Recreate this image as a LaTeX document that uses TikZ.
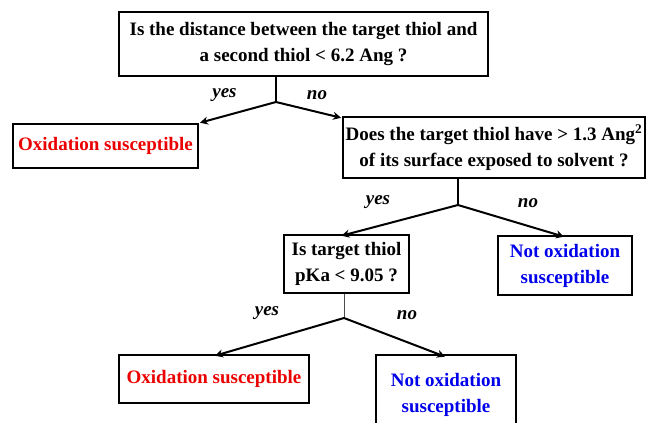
\documentclass[tikz,border=0pt]{standalone}
\usepackage{fontspec}
\setmainfont{Liberation Serif}
\usetikzlibrary{arrows.meta}
\definecolor{okred}{RGB}{235,0,0}
\definecolor{okblue}{RGB}{0,0,235}
\tikzset{
  qbox/.style={draw=black, line width=2pt, inner sep=0pt, align=center,
    font=\fontsize{19}{26}\selectfont\bfseries},
  redbox/.style={qbox, text=okred},
  bluebox/.style={qbox, text=okblue},
  lbl/.style={font=\fontsize{19}{22}\selectfont\bfseries\itshape, inner sep=0pt},
  arr/.style={line width=2pt, -{Stealth[length=8pt,width=8pt,inset=2.5pt]}, shorten >=1pt},
  stem/.style={line width=2pt},
}
\begin{document}
\begin{tikzpicture}[x=1pt,y=-1pt]
\useasboundingbox (0,0) rectangle (649,423);
\begin{scope}
\clip (0,0) rectangle (649,423);
\node[qbox, minimum width=369pt, minimum height=64pt] (q1) at (303.5,44)
  {Is the distance between the target thiol and\\a second thiol < 6.2 Ang ?};
\node[redbox, minimum width=185pt, minimum height=44pt] (ox1) at (105.5,146)
  {Oxidation susceptible};
\node[qbox, minimum width=302pt, minimum height=61pt] (q2) at (494,147.5)
  {Does the target thiol have > 1.3 Ang\textsuperscript{2}\\of its surface exposed to solvent ?};
\node[qbox, minimum width=125pt, minimum height=58pt] (q3) at (346.5,264)
  {Is target thiol\\pKa < 9.05 ?};
\node[bluebox, minimum width=134pt, minimum height=59pt] (nox1) at (565,265.5)
  {Not oxidation\\susceptible};
\node[redbox, minimum width=190pt, minimum height=48pt] (ox2) at (214,379)
  {Oxidation susceptible};
\node[bluebox, minimum width=140pt, minimum height=80pt] (nox2) at (446,395)
  {Not oxidation\\susceptible};

\coordinate (j1) at (276,102);
\coordinate (j2) at (458,205);
\coordinate (j3) at (344,318);

\draw[stem] (q1.south -| j1) -- (j1);
\draw[arr] (j1) -- (ox1.north east);
\draw[arr] (j1) -- ([yshift=-2pt]q2.north west);

\draw[stem] (q2.south -| j2) -- (j2);
\draw[arr] (j2) -- ([xshift=-6pt,yshift=-2pt]q3.north);
\draw[arr] (j2) -- ([yshift=-2pt]nox1.north);

\draw[line width=1pt, black!70] (q3.south -| j3) -- (j3);
\draw[arr] (j3) -- ([yshift=-2pt]ox2.north);
\draw[arr] (j3) -- ([yshift=-3pt]nox2.north);

\node[lbl] (y1) at (224.5,95) {yes};
\node[lbl] (n1) at (317,95) {no};
\node[lbl] (y2) at (378,202) {yes};
\node[lbl] (n2) at (528,203) {no};
\node[lbl] (y3) at (267,313) {yes};
\node[lbl] (n3) at (407,315) {no};
\end{scope}
\end{tikzpicture}
\end{document}
